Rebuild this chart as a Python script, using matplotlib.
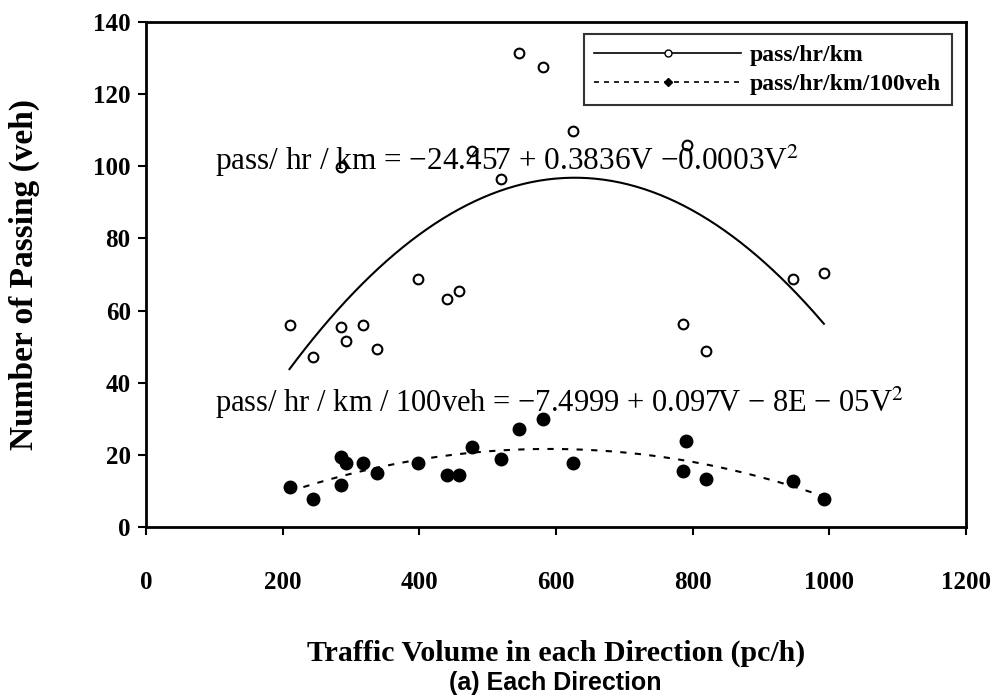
import matplotlib
matplotlib.use('Agg')
import matplotlib.pyplot as plt
from matplotlib.lines import Line2D
import numpy as np

plt.rcParams['font.family'] = 'Liberation Serif'
plt.rcParams['mathtext.fontset'] = 'stix'

# traffic volume (pc/h)
volume = [210, 245, 286, 293, 286, 318, 338, 398, 441, 458,
          477, 520, 546, 581, 625, 786, 791, 819, 947, 992]
volume_b = [210, 245, 286, 293, 286, 318, 338, 398, 441, 458,
            477, 520, 546, 581, 625, 786, 790, 819, 947, 992]
# pass/hr/km
pass_km = [56.0, 47.2, 55.4, 51.6, 99.9, 56.0, 49.3, 68.7, 63.1, 65.4,
           104.1, 96.5, 131.5, 127.6, 109.9, 56.2, 105.9, 48.9, 68.7, 70.3]
# pass/hr/km/100veh
pass_100 = [11.1, 7.7, 19.3, 17.7, 11.6, 17.7, 15.1, 17.7, 14.4, 14.4,
            22.1, 18.9, 27.2, 29.9, 17.7, 15.5, 23.8, 13.3, 12.7, 7.7]

xticks = [0, 200, 400, 600, 800, 1000, 1200]
yticks = [0, 20, 40, 60, 80, 100, 120, 140]

fig = plt.figure(figsize=(10, 6.98), dpi=100)
ax = fig.add_axes([0.146, 0.245, 0.82, 0.7235])

# polynomial trendlines (order 2)
c1 = np.polyfit(volume, pass_km, 2)
c2 = np.polyfit(volume_b, pass_100, 2)
xs = np.linspace(min(volume), max(volume), 200)
ax.plot(xs, np.polyval(c1, xs), color='black', linewidth=1.5)
ax.plot(xs, np.polyval(c2, xs), color='black', linewidth=1.5, linestyle=(0, (3, 4)))

ax.plot(volume, pass_km, 'o', markersize=7, markerfacecolor='white',
        markeredgecolor='black', markeredgewidth=1.5)
ax.plot(volume_b, pass_100, 'o', markersize=9, color='black')

ax.set_xlim(0, 1200)
ax.set_ylim(0, 140)
ax.set_xticks(xticks)
ax.set_yticks(yticks)
ax.tick_params(axis='x', direction='out', length=6, width=1.5, pad=26, labelsize=18)
ax.tick_params(axis='y', direction='out', length=6, width=1.5, pad=5, labelsize=18)
for lab in ax.get_xticklabels() + ax.get_yticklabels():
    lab.set_fontweight('bold')
for sp in ax.spines.values():
    sp.set_linewidth(2)

ax.set_ylabel('Number of Passing (veh)', fontsize=24, fontweight='bold', va='center')
ax.yaxis.set_label_coords(-0.148, 0.5)
ax.set_xlabel('Traffic Volume in each Direction (pc/h)', fontsize=21.5,
              fontweight='bold', va='center')
ax.xaxis.set_label_coords(0.5, -0.25)
fig.text(0.555, 0.004, '(a) Each Direction', fontsize=18, fontweight='bold',
         family='Liberation Sans', ha='center', va='bottom')

ax.text(101, 101.5, 'pass/ hr / km = \u221224.457 + 0.3836V \u22120.0003V$^2$',
        fontsize=22.5, va='center')
ax.text(101, 34.5, 'pass/ hr / km / 100veh = \u22127.4999 + 0.097V \u2212 8E \u2212 05V$^2$',
        fontsize=22, va='center')

handles = [
    Line2D([], [], color='black', linewidth=1.2, marker='o', markersize=5,
           markerfacecolor='white', markeredgecolor='black'),
    Line2D([], [], color='black', linewidth=1.2, linestyle=(0, (3, 3)),
           marker='D', markersize=4),
]
leg = ax.legend(handles, ['pass/hr/km', 'pass/hr/km/100veh'], loc='upper right',
                bbox_to_anchor=(0.983, 0.976), borderaxespad=0, fancybox=False,
                framealpha=1, edgecolor='#333333', handlelength=6.2,
                handletextpad=0.4, borderpad=0.45, labelspacing=0.3,
                prop={'family': 'Liberation Serif', 'weight': 'bold', 'size': 17})
leg.get_frame().set_linewidth(1.5)

plt.savefig('out.png', dpi=100)
